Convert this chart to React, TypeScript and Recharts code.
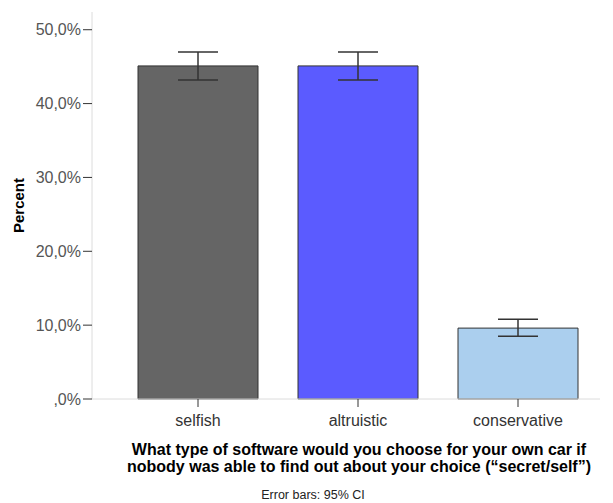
import React from 'react';
import { BarChart, Bar, XAxis, YAxis, Cell, ErrorBar, Label } from 'recharts';

const categories = ['selfish', 'altruistic', 'conservative'];
const percents = [45.1, 45.1, 9.6];
const ciLower = [43.2, 43.2, 8.5];
const ciUpper = [47.0, 47.0, 10.8];
const barColors = ['#656565', '#5b5bff', '#abcfee'];
const yTicks = [0, 10, 20, 30, 40, 50];

const data = categories.map((name, i) => ({
    name,
    percent: percents[i],
    ci: [percents[i] - ciLower[i], ciUpper[i] - percents[i]],
}));

const FONT = "Arial, 'Liberation Sans', sans-serif";

const formatPct = (v: number) => (v === 0 ? ',0%' : `${v},0%`);

const renderYTitle = (props: any) => {
    const { viewBox } = props;
    const cx = 18;
    const cy = viewBox.y + viewBox.height / 2;
    return (
        <text
            x={cx}
            y={cy}
            transform={`rotate(-90, ${cx}, ${cy})`}
            textAnchor="middle"
            dominantBaseline="central"
            fontFamily={FONT}
            fontWeight="bold"
            fontSize={15}
            fill="#000"
        >
            Percent
        </text>
    );
};

const renderXTitle = (props: any) => {
    const { viewBox } = props;
    const cx = 359;
    const y0 = viewBox.y;
    return (
        <g fontFamily={FONT}>
            <text x={cx} y={y0 + 56} textAnchor="middle" fontWeight="bold" fontSize={16} fill="#000">
                What type of software would you choose for your own car if
            </text>
            <text x={cx} y={y0 + 73} textAnchor="middle" fontWeight="bold" fontSize={16} fill="#000">
                nobody was able to find out about your choice (“secret/self”)
            </text>
            <text x={313} y={y0 + 100} textAnchor="middle" fontSize={12.5} fill="#222">
                Error bars: 95% CI
            </text>
        </g>
    );
};

export default function App() {
    return (
        <div style={{ position: 'absolute', left: 0, top: 0, width: 613, height: 503, background: '#fff' }}>
            <BarChart
                width={613}
                height={503}
                data={data}
                margin={{ top: 12, right: 13, left: 0, bottom: 0 }}
                barCategoryGap="12.5%"
            >
                <XAxis
                    dataKey="name"
                    height={104}
                    padding={{ left: 26, right: 2 }}
                    axisLine={{ stroke: '#dcdcdc' }}
                    tickLine={{ stroke: '#333' }}
                    tickSize={8}
                    tickMargin={8}
                    tick={{ fill: '#333', fontSize: 16, fontFamily: FONT }}
                >
                    <Label content={renderXTitle} />
                </XAxis>
                <YAxis
                    width={92}
                    domain={[0, 52.4]}
                    ticks={yTicks}
                    tickFormatter={formatPct}
                    axisLine={{ stroke: '#dcdcdc' }}
                    tickLine={{ stroke: '#333' }}
                    tickSize={9}
                    tickMargin={2}
                    tick={{ fill: '#555', fontSize: 16, fontFamily: FONT }}
                >
                    <Label content={renderYTitle} />
                </YAxis>
                <Bar dataKey="percent" stroke="#333" strokeWidth={1} isAnimationActive={false}>
                    {data.map((d, i) => (
                        <Cell key={d.name} fill={barColors[i]} />
                    ))}
                    <ErrorBar dataKey="ci" width={20} stroke="#333" strokeWidth={1.5} isAnimationActive={false} />
                </Bar>
            </BarChart>
        </div>
    );
}
